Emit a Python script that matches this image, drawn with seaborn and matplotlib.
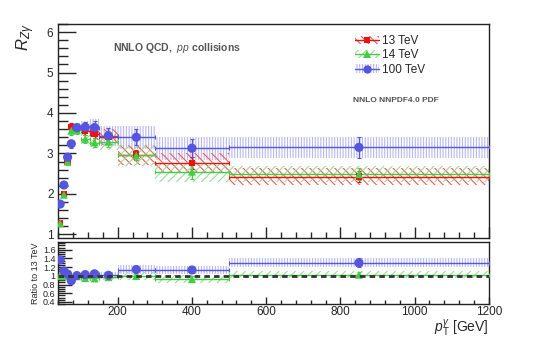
import numpy as np
import pandas as pd
import matplotlib
matplotlib.use("Agg")
import matplotlib.pyplot as plt
import seaborn as sns
from matplotlib.lines import Line2D
from matplotlib.patches import Patch
from matplotlib.ticker import MultipleLocator

# ---- data ----
edges = [40, 50, 60, 70, 80, 100, 125, 150, 200, 300, 500, 1200]
r13 = [1.28, 2.00, 2.79, 3.65, 3.62, 3.55, 3.48, 3.40, 2.97, 2.76, 2.43]
r14 = [1.27, 1.98, 2.80, 3.56, 3.58, 3.36, 3.27, 3.29, 2.95, 2.55, 2.49]
r100 = [1.75, 2.22, 2.91, 3.24, 3.64, 3.65, 3.64, 3.44, 3.40, 3.13, 3.15]
e13 = [0.04, 0.05, 0.08, 0.10, 0.10, 0.10, 0.10, 0.12, 0.12, 0.15, 0.13]
e14 = [0.04, 0.05, 0.08, 0.10, 0.10, 0.10, 0.10, 0.12, 0.12, 0.18, 0.15]
e100 = [0.05, 0.06, 0.08, 0.10, 0.10, 0.12, 0.15, 0.20, 0.20, 0.22, 0.25]
b13 = [0.03, 0.05, 0.07, 0.09, 0.10, 0.12, 0.15, 0.20, 0.25, 0.25, 0.20]
b14 = [0.03, 0.05, 0.07, 0.09, 0.10, 0.12, 0.15, 0.20, 0.25, 0.25, 0.20]
b100 = [0.04, 0.06, 0.08, 0.10, 0.12, 0.15, 0.20, 0.25, 0.28, 0.28, 0.25]
labels = ["13 TeV", "14 TeV", "100 TeV"]

sns.set_style("ticks")
plt.rcParams['font.family'] = ['Liberation Sans', 'DejaVu Sans']
plt.rcParams['mathtext.fontset'] = 'custom'
plt.rcParams['mathtext.rm'] = 'Liberation Sans'
plt.rcParams['mathtext.it'] = 'Liberation Sans:italic'
plt.rcParams['mathtext.bf'] = 'Liberation Sans:bold'
plt.rcParams['hatch.linewidth'] = 0.8

edges_a = np.array(edges, float)
xc = 0.5 * (edges_a[:-1] + edges_a[1:])
xw = np.diff(edges_a)
xe = xw / 2

cols = {"13 TeV": "#ee1111", "14 TeV": "#44cc44", "100 TeV": "#5555dd"}
hcols = {"13 TeV": "#ff5555", "14 TeV": "#99dd99", "100 TeV": "#b8b8f0"}
hatches = {"13 TeV": "\\\\\\\\", "14 TeV": "////", "100 TeV": "||||||"}
markers = {"13 TeV": "s", "14 TeV": "^", "100 TeV": "o"}
msz = {"13 TeV": 4.2, "14 TeV": 5.2, "100 TeV": 6.0}

vals = {"13 TeV": np.array(r13), "14 TeV": np.array(r14), "100 TeV": np.array(r100)}
errs = {"13 TeV": np.array(e13), "14 TeV": np.array(e14), "100 TeV": np.array(e100)}
bands = {"13 TeV": np.array(b13), "14 TeV": np.array(b14), "100 TeV": np.array(b100)}

df = pd.concat([pd.DataFrame({"pt": xc, "R": vals[k], "energy": k}) for k in labels], ignore_index=True)
ref = vals["13 TeV"]
dfr = pd.concat([pd.DataFrame({"pt": xc, "R": vals[k] / ref, "energy": k}) for k in ["14 TeV", "100 TeV"]],
                ignore_index=True)

fig = plt.figure(figsize=(5.45, 3.46), dpi=100)
ax1 = fig.add_axes([0.107, 0.312, 0.79, 0.62])
ax2 = fig.add_axes([0.107, 0.121, 0.79, 0.18])

# main panel
for k in ["100 TeV", "13 TeV", "14 TeV"]:
    v, b = vals[k], bands[k]
    ax1.bar(edges_a[:-1], 2 * b, bottom=v - b, width=xw, align='edge', fill=False,
            hatch=hatches[k], edgecolor=hcols[k], linewidth=0, zorder=1)
for k in labels:
    ax1.errorbar(xc, vals[k], xerr=xe, yerr=errs[k], fmt='none', ecolor=cols[k],
                 elinewidth=1.0, capsize=1.5, capthick=0.8, zorder=3)
sns.scatterplot(data=df, x="pt", y="R", hue="energy", style="energy", palette=cols,
                markers=markers, size="energy", sizes={k: (msz[k] * 1.1) ** 2 for k in labels},
                edgecolor='none', legend=False, ax=ax1, zorder=4)

# ratio panel
for k in ["100 TeV", "14 TeV"]:
    v, b = vals[k] / ref, bands[k] / ref
    ax2.bar(edges_a[:-1], 2 * b, bottom=v - b, width=xw, align='edge', fill=False,
            hatch=hatches[k], edgecolor=hcols[k], linewidth=0, zorder=1)
    ax2.errorbar(xc, v, xerr=xe, yerr=errs[k] / ref, fmt='none', ecolor=cols[k],
                 elinewidth=1.0, capsize=1.5, capthick=0.8, zorder=3)
sns.scatterplot(data=dfr, x="pt", y="R", hue="energy", style="energy", palette=cols,
                markers=markers, size="energy", sizes={k: (msz[k] * 1.1) ** 2 for k in ["14 TeV", "100 TeV"]},
                edgecolor='none', legend=False, ax=ax2, zorder=4)
ax2.axhline(1.0, color='#333333', lw=2.0, ls=(0, (2, 1.5)), zorder=5)

for ax in (ax1, ax2):
    ax.set_xlim(40, 1200)
    ax.set_xlabel("")
    ax.set_ylabel("")
    ax.tick_params(direction='in', which='both', top=False, right=False, width=1.0)
    ax.xaxis.set_major_locator(MultipleLocator(200))
    ax.xaxis.set_minor_locator(MultipleLocator(40))
    for s in ax.spines.values():
        s.set_linewidth(1.0)
        s.set_color('#222222')

ax1.set_ylim(0.91, 6.21)
ax1.yaxis.set_major_locator(MultipleLocator(1))
ax1.yaxis.set_minor_locator(MultipleLocator(0.2))
ax1.tick_params(axis='y', which='major', length=13, labelsize=8.5)
ax1.tick_params(axis='y', which='minor', length=7)
ax1.tick_params(axis='x', which='major', length=8, labelbottom=False)
ax1.tick_params(axis='x', which='minor', length=4)

ax2.set_ylim(0.35, 1.78)
ax2.yaxis.set_minor_locator(MultipleLocator(0.05))
ax2.set_yticks([0.4, 0.6, 0.8, 1.0, 1.2, 1.4, 1.6])
ax2.set_yticklabels(["0.4", "0.6", "0.8", "1", "1.2", "1.4", "1.6"])
ax2.tick_params(axis='y', which='major', length=10, labelsize=6.5, pad=2)
ax2.tick_params(axis='y', which='minor', length=5)
ax2.tick_params(axis='x', which='major', length=5, labelsize=8.5, pad=1)
ax2.tick_params(axis='x', which='minor', length=3)

ax2.set_ylabel("Ratio to 13 TeV", fontsize=6.5, labelpad=2)

fig.text(0.047, 1 - 24 / 346, r"$R_{Z\gamma}$", rotation=90, ha='center', va='top', fontsize=12)
fig.text(489 / 545, 1 - 333 / 346, r"$p_{\rm T}^{\gamma}$ [GeV]", ha='right', va='baseline', fontsize=10)

ax1.text(0.127, 0.885, r"NNLO QCD,  $\it{pp}$ collisions", transform=ax1.transAxes,
         fontsize=7.5, color='#555555', fontweight='bold', va='center', ha='left')
ax1.text(0.685, 0.64, "NNLO NNPDF4.0 PDF", transform=ax1.transAxes,
         fontsize=6, color='#555555', fontweight='bold', va='center', ha='left')

handles = []
for k in labels:
    p = Patch(facecolor='none', edgecolor=hcols[k], hatch=hatches[k], linewidth=0)
    l = Line2D([], [], color=cols[k], marker=markers[k], markersize=msz[k], lw=1.0, markeredgewidth=0)
    handles.append((p, l))
ax1.legend(handles, labels, loc='upper left', bbox_to_anchor=(0.67, 0.985), frameon=False,
           fontsize=8.5, handlelength=2.0, handletextpad=0.3, labelspacing=0.2, borderpad=0.2)

fig.savefig("out.png", dpi=100)
